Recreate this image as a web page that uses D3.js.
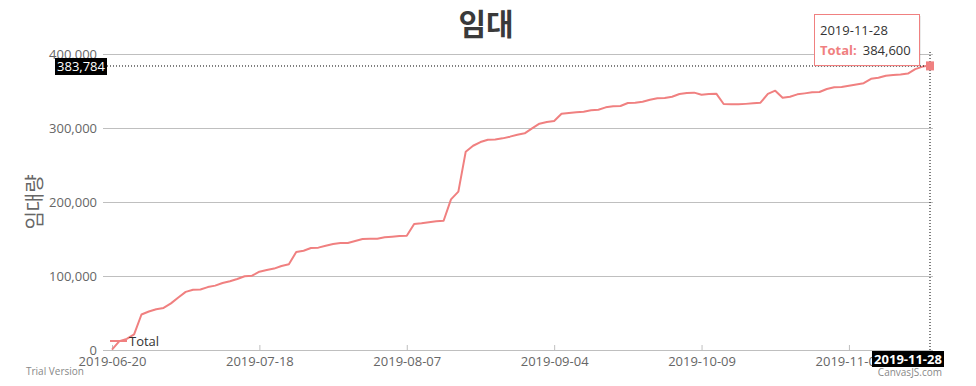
<!DOCTYPE html>
<html>
<head>
<meta charset="utf-8">
<script src="https://cdn.jsdelivr.net/npm/d3@7"></script>
<style>
  body { margin: 0; background: #fff; }
  svg { display: block; font-family: "Open Sans", "Noto Sans CJK KR", sans-serif; }
</style>
</head>
<body>
<div id="chart"></div>
<script>
// chart values (one point per trading day)
var values = [
  500, 12000, 15000, 21000, 48000, 52000, 55000, 56800, 63000, 71000,
  78500, 81500, 81700, 85000, 87000, 90500, 93000, 96000, 99700, 100500,
  105800, 108000, 110000, 113500, 116000, 132400, 134200, 137800, 138300, 141000,
  143200, 144600, 144600, 147300, 150000, 150400, 150400, 152300, 153200, 154000,
  154500, 170300, 171200, 172500, 173900, 174700, 203600, 214000, 268000, 276000,
  281000, 284200, 284600, 286000, 288300, 291000, 292800, 299500, 305800, 308000,
  309500, 319300, 320300, 321200, 322100, 323900, 324700, 327900, 329300, 329700,
  333800, 334200, 335500, 338200, 340100, 340500, 342300, 345900, 347300, 347800,
  345000, 345800, 346400, 332400, 332200, 332000, 332600, 333400, 334200, 346000,
  350400, 341000, 342300, 345500, 346800, 348200, 348600, 352700, 355000, 355400,
  357200, 358800, 360500, 366500, 367800, 370700, 371600, 372400, 373500, 379500,
  383000, 384600
];
// x tick positions (point index) and their labels
var tickIndex = [0, 20, 40, 60, 80, 100];
var tickLabels = ["2019-06-20", "2019-07-18", "2019-08-07", "2019-09-04", "2019-10-09", "2019-11-06"];
var yTicks = [0, 100000, 200000, 300000, 400000];
var lastLabel = "2019-11-28";
var seriesName = "Total";
var cursorValue = 383784;

var svgWidth = 976;
var svgHeight = 386;
var lineColor = "#f08080";
var gridColor = "#bfbfbf";
var textColor = "#666";

var svg = d3.select("#chart").append("svg")
    .attr("width", svgWidth)
    .attr("height", svgHeight);

var x = d3.scaleLinear().domain([0, values.length - 1]).range([112, 930]);
var y = d3.scaleLinear().domain([0, 400000]).range([350, 54]);
var fmt = d3.format(",");

// title
svg.append("text")
    .attr("x", 486).attr("y", 35)
    .attr("text-anchor", "middle")
    .attr("font-family", "'Noto Sans CJK KR', sans-serif")
    .attr("font-size", 30).attr("font-weight", "bold")
    .attr("fill", "#3a3a3a")
    .text("임대");

// y axis title
svg.append("text")
    .attr("transform", "translate(42,202) rotate(-90)")
    .attr("text-anchor", "middle")
    .attr("font-family", "'Noto Sans CJK KR', sans-serif")
    .attr("font-size", 20)
    .attr("fill", textColor)
    .text("임대량");

// gridlines + y axis
var yAxis = d3.axisLeft(y)
    .tickValues(yTicks)
    .tickSize(-(933 - 103))
    .tickPadding(6)
    .tickFormat(fmt);
var gy = svg.append("g")
    .attr("transform", "translate(103,0)")
    .call(yAxis);
gy.select(".domain").remove();
gy.selectAll("line").attr("stroke", gridColor);
gy.selectAll("text").attr("font-size", 13).attr("fill", textColor)
    .attr("font-family", "'Open Sans', sans-serif");

// x axis
var xAxis = d3.axisBottom(x)
    .tickValues(tickIndex)
    .tickSize(5)
    .tickPadding(2)
    .tickFormat(function(d, i) { return tickLabels[i]; });
var gx = svg.append("g")
    .attr("transform", "translate(0,350)")
    .call(xAxis);
gx.select(".domain").attr("d", "M103,0.5H933").attr("stroke", gridColor);
gx.selectAll("line").attr("stroke", gridColor).attr("y1", -5).attr("y2", 0);
gx.selectAll("text").attr("font-size", 13).attr("fill", textColor)
    .attr("font-family", "'Open Sans', sans-serif");

// line
var line = d3.line()
    .x(function(d, i) { return x(i); })
    .y(function(d) { return y(d); });
svg.append("path")
    .datum(values)
    .attr("d", line)
    .attr("fill", "none")
    .attr("stroke", lineColor)
    .attr("stroke-width", 2)
    .attr("stroke-linejoin", "round");

// legend
svg.append("line")
    .attr("x1", 110).attr("x2", 127).attr("y1", 341).attr("y2", 341)
    .attr("stroke", lineColor).attr("stroke-width", 2);
svg.append("text")
    .attr("x", 129).attr("y", 346)
    .attr("font-size", 13).attr("fill", "#333")
    .text(seriesName);

// crosshair
var lastI = values.length - 1;
var cx = x(lastI), cy = y(cursorValue);
svg.append("line")
    .attr("x1", 107).attr("x2", cx).attr("y1", cy).attr("y2", cy)
    .attr("stroke", "#000").attr("stroke-dasharray", "1,2");
svg.append("line")
    .attr("x1", cx).attr("x2", cx).attr("y1", 52).attr("y2", 350)
    .attr("stroke", "#000").attr("stroke-dasharray", "1,2");

svg.append("rect")
    .attr("x", 55).attr("y", cy - 8).attr("width", 52).attr("height", 17)
    .attr("fill", "#000");
svg.append("text")
    .attr("x", 81).attr("y", cy + 5)
    .attr("text-anchor", "middle")
    .attr("font-size", 13).attr("fill", "#fff")
    .text(fmt(cursorValue));

svg.append("rect")
    .attr("x", 872).attr("y", 351).attr("width", 72).attr("height", 16)
    .attr("fill", "#000");
svg.append("text")
    .attr("x", 908).attr("y", 364)
    .attr("text-anchor", "middle")
    .attr("font-size", 13).attr("font-weight", "bold").attr("fill", "#fff")
    .text(lastLabel);

// highlighted point
svg.append("rect")
    .attr("x", cx - 4).attr("y", y(values[lastI]) - 4)
    .attr("width", 8).attr("height", 9)
    .attr("fill", lineColor);

// tooltip
var tip = svg.append("g").attr("transform", "translate(814,14)");
tip.append("rect")
    .attr("x", 2).attr("y", 2).attr("width", 105).attr("height", 51)
    .attr("fill", "#000").attr("opacity", 0.08);
tip.append("rect")
    .attr("x", 0.5).attr("y", 0.5).attr("width", 105).attr("height", 51)
    .attr("fill", "#fff").attr("stroke", lineColor);
tip.append("text")
    .attr("x", 6).attr("y", 21)
    .attr("font-size", 13).attr("fill", "#333")
    .text(lastLabel);
var t2 = tip.append("text").attr("x", 6).attr("y", 41).attr("font-size", 13);
t2.append("tspan").attr("fill", lineColor).attr("font-weight", "bold").text(seriesName + ":");
t2.append("tspan").attr("fill", "#333").attr("dx", 6).text(fmt(values[lastI]));

// watermark texts
svg.append("text")
    .attr("x", 26).attr("y", 375)
    .attr("font-size", 10).attr("fill", "#888")
    .text("Trial Version");
svg.append("text")
    .attr("x", 942).attr("y", 376)
    .attr("text-anchor", "end")
    .attr("font-size", 10).attr("fill", "#888")
    .text("CanvasJS.com");
</script>
</body>
</html>
